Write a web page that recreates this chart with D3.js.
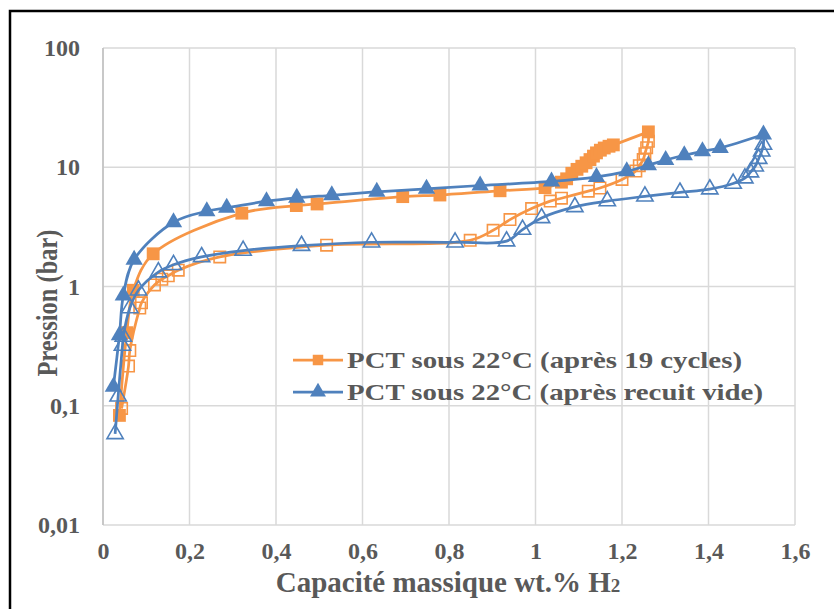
<!DOCTYPE html>
<html><head><meta charset="utf-8">
<script src="https://cdn.jsdelivr.net/npm/d3@7"></script>
<style>body{margin:0;background:#fff}svg{display:block}text{font-family:"Liberation Serif","Times New Roman",Tinos,serif;font-weight:bold;fill:#595959}</style>
</head><body><svg id="c" width="834" height="609"></svg>
<script>
// Orange: PCT sous 22°C (après 19 cycles)
const orangeAbsX = [0.038,0.055,0.07,0.116,0.321,0.447,0.495,0.693,0.779,0.918,1.022,1.06,1.072,1.084,1.096,1.107,1.117,1.126,1.134,1.141,1.15,1.159,1.17,1.18,1.261];
const orangeAbsP = [0.083,0.41,0.93,1.88,4.12,4.77,4.92,5.67,5.85,6.35,6.75,7.5,8.0,8.9,9.6,10.2,10.9,11.6,12.4,13.2,13.9,14.5,15.0,15.4,19.8];
const orangeDesX = [1.261,1.257,1.253,1.249,1.240,1.232,1.2,1.149,1.122,1.06,1.034,0.991,0.941,0.902,0.849,0.517,0.27,0.174,0.151,0.136,0.119,0.089,0.085,0.062,0.059,0.043];
const orangeDesP = [16.5,14.6,13.0,11.6,10.3,9.3,7.9,6.7,6.3,5.5,5.2,4.5,3.64,2.96,2.44,2.22,1.77,1.37,1.23,1.15,1.03,0.73,0.66,0.29,0.215,0.095];
// Blue: PCT sous 22°C (après recuit vide)
const blueAbsX = [0.024,0.038,0.047,0.072,0.163,0.24,0.286,0.378,0.448,0.529,0.633,0.748,0.872,1.037,1.141,1.211,1.261,1.301,1.344,1.386,1.427,1.527];
const blueAbsP = [0.144,0.39,0.84,1.68,3.46,4.28,4.57,5.19,5.54,5.82,6.22,6.59,7.03,7.6,8.3,9.25,10.4,11.5,12.6,13.6,14.5,18.8];
const blueDesX = [1.527,1.523,1.516,1.508,1.497,1.484,1.457,1.403,1.334,1.253,1.166,1.091,1.014,0.970,0.933,0.814,0.621,0.459,0.324,0.228,0.163,0.128,0.082,0.062,0.047,0.045,0.035,0.028];
const blueDesP = [15.5,13.6,11.8,10.2,9.1,8.1,7.3,6.55,6.15,5.7,5.2,4.65,3.76,3.0,2.4,2.35,2.35,2.2,2.0,1.77,1.52,1.32,0.93,0.66,0.38,0.32,0.12,0.058];

const xTicks = [0,0.2,0.4,0.6,0.8,1,1.2,1.4,1.6];
const xTickLabels = ["0","0,2","0,4","0,6","0,8","1","1,2","1,4","1,6"];
const yTicks = [0.01,0.1,1,10,100];
const yTickLabels = ["0,01","0,1","1","10","100"];
const seriesNames = ["PCT sous 22°C (après 19 cycles)","PCT sous 22°C (après recuit vide)"];
const colors = ["#F79646","#4F81BD"];

const svg = d3.select("#c");
svg.append("rect").attr("x",10).attr("y",11).attr("width",900).attr("height",700)
  .attr("fill","#fff").attr("stroke","#000").attr("stroke-width",2.5);

const x = d3.scaleLinear().domain([0,1.6]).range([103,795]);
const y = d3.scaleLog().domain([0.01,100]).range([525,48]);

const g = svg.append("g");
g.selectAll(".vg").data(xTicks).join("line").attr("x1",d=>x(d)).attr("x2",d=>x(d))
  .attr("y1",y(100)).attr("y2",y(0.01)).attr("stroke","#d9d9d9").attr("stroke-width",1.5);
g.selectAll(".hg").data(yTicks).join("line").attr("y1",d=>y(d)).attr("y2",d=>y(d))
  .attr("x1",x(0)).attr("x2",x(1.6)).attr("stroke","#d9d9d9").attr("stroke-width",1.5);
g.append("line").attr("x1",x(0)).attr("x2",x(0)).attr("y1",y(100)).attr("y2",y(0.01)).attr("stroke","#bfbfbf").attr("stroke-width",1.5);

const xAxis = d3.axisBottom(x).tickValues(xTicks).tickFormat((d,i)=>xTickLabels[i]).tickSize(0).tickPadding(17);
const xa = svg.append("g").attr("transform",`translate(0,${y(0.01)})`).call(xAxis);
xa.select(".domain").remove();
xa.attr("font-family",null).attr("font-size",null);
xa.selectAll("text").attr("font-size",24).attr("fill","#595959");
const yAxis = d3.axisLeft(y).tickValues(yTicks).tickFormat((d,i)=>yTickLabels[i]).tickSize(0).tickPadding(23);
const ya = svg.append("g").attr("transform",`translate(${x(0)},0)`).call(yAxis);
ya.select(".domain").remove();
ya.attr("font-family",null).attr("font-size",null);
ya.selectAll("text").attr("font-size",24).attr("fill","#595959");

svg.append("text").attr("x",448).attr("y",592).attr("text-anchor","middle").attr("font-size",29)
  .text("Capacité massique wt.% H").append("tspan").attr("font-size",19).text("2");
svg.append("text").attr("transform","translate(57,303) rotate(-90)").attr("text-anchor","middle")
  .attr("font-size",30).attr("textLength",147).attr("lengthAdjust","spacingAndGlyphs").text("Pression (bar)");

const line = d3.line().x(d=>x(d[0])).y(d=>y(d[1])).curve(d3.curveCatmullRom.alpha(0.5));
const zip = (a,b)=>a.map((v,i)=>[v,b[i]]);
const oAbs = zip(orangeAbsX,orangeAbsP), oDes = zip(orangeDesX,orangeDesP);
const bAbs = zip(blueAbsX,blueAbsP), bDes = zip(blueDesX,blueDesP);

const sq = d3.symbol().type(d3.symbolSquare).size(165);
const tri = d3.symbol().type(d3.symbolTriangle).size(130);

function drawSeries(abs,des,col,sym,openSym){
  svg.append("path").attr("d",line([abs[abs.length-1]].concat(des))).attr("fill","none").attr("stroke",col).attr("stroke-width",2.75);
  svg.append("path").attr("d",line(abs)).attr("fill","none").attr("stroke",col).attr("stroke-width",2.75);
  svg.selectAll(null).data(des).join("path").attr("d",openSym)
    .attr("transform",d=>`translate(${x(d[0])},${y(d[1])})`).attr("fill","none").attr("stroke",col).attr("stroke-width",1.6);
  svg.selectAll(null).data(abs).join("path").attr("d",sym)
    .attr("transform",d=>`translate(${x(d[0])},${y(d[1])})`).attr("fill",col);
}
drawSeries(oAbs,oDes,colors[0],sq,d3.symbol().type(d3.symbolSquare).size(130));
drawSeries(bAbs,bDes,colors[1],tri,d3.symbol().type(d3.symbolTriangle).size(115));

const leg = svg.append("g");
const legY = [360,392], legW=[395,416];
[0,1].forEach(i=>{
  leg.append("line").attr("x1",293).attr("x2",343).attr("y1",legY[i]).attr("y2",legY[i]).attr("stroke",colors[i]).attr("stroke-width",2.75);
  leg.append("path").attr("d",i===0?d3.symbol().type(d3.symbolSquare).size(110)():d3.symbol().type(d3.symbolTriangle).size(110)())
    .attr("transform",`translate(318,${legY[i]})`).attr("fill",colors[i]);
  leg.append("text").attr("x",347).attr("y",legY[i]+8).attr("font-size",24)
    .attr("textLength",legW[i]).attr("lengthAdjust","spacingAndGlyphs").text(seriesNames[i]);
});
</script></body></html>
